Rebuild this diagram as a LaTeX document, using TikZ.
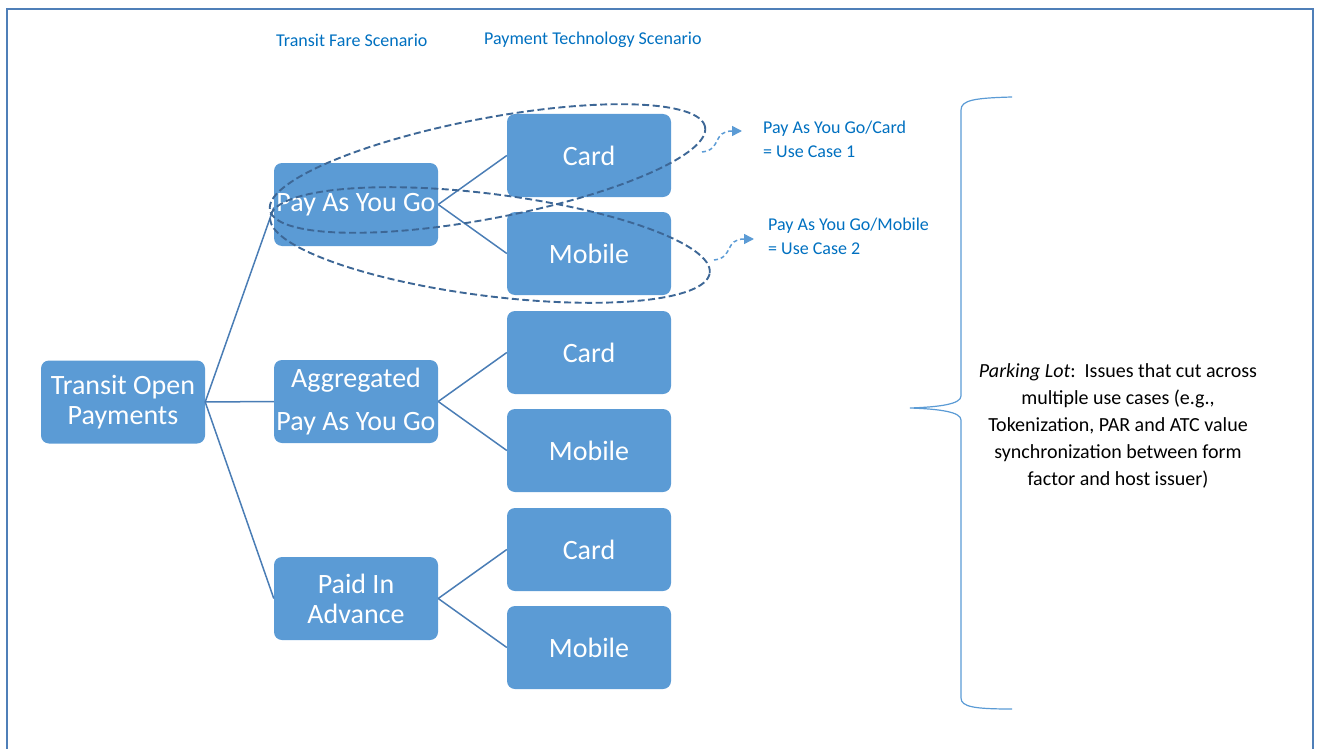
\documentclass[tikz,border=0pt]{standalone}
\usepackage{fontspec}
\setmainfont{Carlito}
\usetikzlibrary{arrows.meta,shapes.geometric}
\definecolor{boxblue}{HTML}{5B9BD5}
\definecolor{linkblue}{HTML}{4A7DB5}
\definecolor{ellblue}{HTML}{3D6796}
\definecolor{txtblue}{HTML}{0070C0}
\definecolor{frameblue}{HTML}{4F7FB8}
\tikzset{
  bx/.style={rectangle, rounded corners=8pt, fill=boxblue, minimum width=164pt, minimum height=83pt,
    text=white, align=center, inner sep=0pt, font=\fontsize{28}{30}\selectfont},
  lnk/.style={draw=linkblue, line width=1.5pt},
  ell/.style={ellipse, draw=ellblue, dash pattern=on 7pt off 3.5pt, line width=1.9pt, inner sep=0pt},
  smallarr/.style={draw=boxblue, line width=1.5pt, dash pattern=on 4pt off 3pt, -{Triangle[length=10pt,width=10pt]}},
  bluelbl/.style={text=txtblue, font=\fontsize{18}{24}\selectfont, inner sep=0pt, align=left},
}
\begin{document}
\begin{tikzpicture}[x=1pt,y=-1pt]
\useasboundingbox (0,0) rectangle (1319,749);
\draw[frameblue, line width=2pt] (7,9) rectangle (1313,770);

% top labels
\node[bluelbl, anchor=west] (lfare) at (276,40) {Transit Fare Scenario};
\node[bluelbl, anchor=west] (ltech) at (484,40) {Payment Technology Scenario};

% boxes
\node[bx] (top) at (123,402) {Transit Open\\Payments};
\node[bx] (payg) at (356,204.5) {Pay As You Go};
\node[bx, font=\fontsize{28}{43}\selectfont] (agg) at (356,401.5) {Aggregated\\Pay As You Go};
\node[bx] (pia) at (356,598.5) {Paid In\\Advance};
\node[bx] (c1) at (589,155.5) {Card};
\node[bx] (m1) at (589,253.5) {Mobile};
\node[bx] (c2) at (589,352.5) {Card};
\node[bx] (m2) at (589,450.5) {Mobile};
\node[bx] (c3) at (589,549.5) {Card};
\node[bx] (m3) at (589,647.5) {Mobile};

% connectors
\draw[lnk] (top.east) -- ([yshift=-3pt]payg.west);
\draw[lnk] (top.east) -- (agg.west);
\draw[lnk] (top.east) -- (pia.west);
\foreach \p/\c/\m in {payg/c1/m1, agg/c2/m2, pia/c3/m3}{
  \draw[lnk] (\p.east) -- (\c.west);
  \draw[lnk] (\p.east) -- (\m.west);
}

% dashed ellipses
\node[ell, minimum width=443pt, minimum height=100pt, rotate=10.8] (e1) at (487.5,168.5) {};
\node[ell, minimum width=443pt, minimum height=102pt, rotate=-7.25] (e2) at (490,245) {};

% small curved arrows
\coordinate (a1s) at (702,152);
\coordinate (a1e) at (742,131);
\coordinate (a2s) at (714,260);
\coordinate (a2e) at (754,239);
\draw[smallarr] (a1s) .. controls (722,150) and (712,131) .. (a1e);
\draw[smallarr] (a2s) .. controls (734,258) and (724,239) .. (a2e);

% use case labels
\node[bluelbl, anchor=west] (u1) at (763,139) {Pay As You Go/Card\\= Use Case 1};
\node[bluelbl, anchor=west] (u2) at (768,236) {Pay As You Go/Mobile\\= Use Case 2};

% brace
\draw[boxblue, line width=1.2pt]
  (1012,97) .. controls (975,98) and (961,100) .. (961,110) -- (961,396)
  .. controls (961,404) and (940,407) .. (910,408)
  .. controls (940,409) and (961,412) .. (961,420) -- (961,698)
  .. controls (961,707) and (975,709) .. (1012,709);

% parking lot text
\node[align=center, font=\fontsize{20}{27}\selectfont, inner sep=0pt] (park) at (1118,426)
  {\textit{Parking Lot}:\ \ Issues that cut across\\multiple use cases (e.g.,\\Tokenization, PAR and ATC value\\synchronization between form\\factor and host issuer)};
\end{tikzpicture}
\end{document}
